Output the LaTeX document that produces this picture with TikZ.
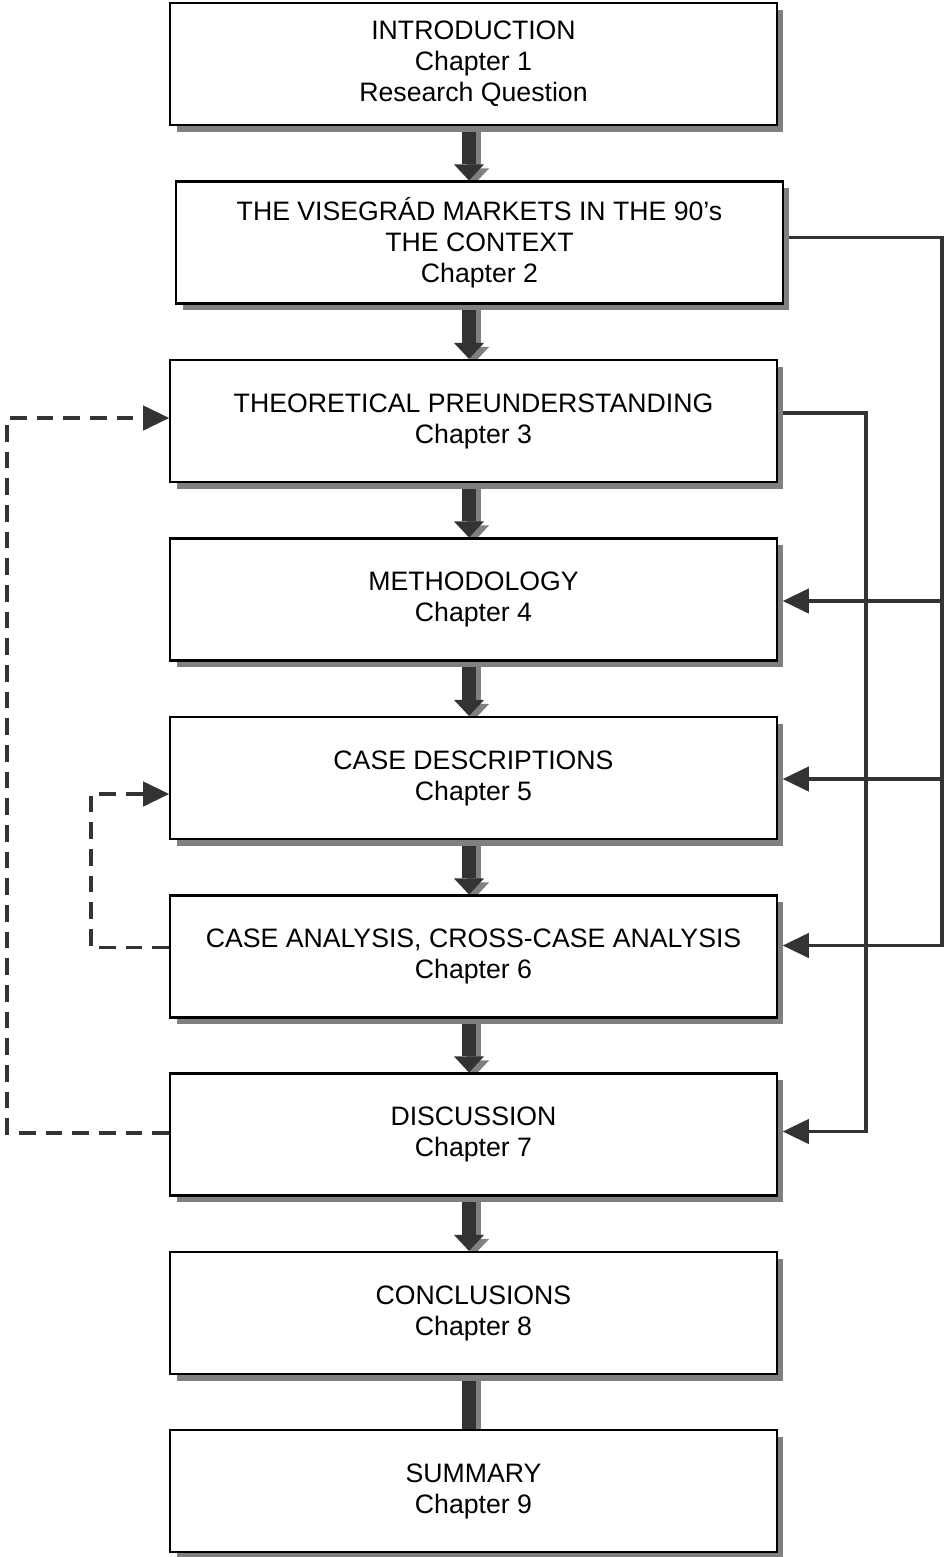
\documentclass[tikz,border=0pt]{standalone}
\usepackage{fontspec}
\setmainfont{Liberation Sans}
\usetikzlibrary{arrows.meta,shadows,calc}
\definecolor{ink}{HTML}{333333}
\definecolor{shade}{HTML}{808080}
\pgfdeclarelayer{bg}
\pgfsetlayers{bg,main}
\begin{document}
\begin{tikzpicture}[x=0.75pt,y=-0.75pt,
  chapter/.style={draw=black, line width=1.6pt, fill=white,
    minimum width=455pt, minimum height=91.5pt, inner sep=0pt,
    align=center, font=\fontsize{20}{23.25}\selectfont,
    drop shadow={shadow xshift=4.8pt, shadow yshift=-5pt, fill=shade, opacity=1}},
  flow/.style={draw=ink, line width=10.5pt,
    -{Triangle[width=22.5pt,length=12pt,line width=0pt]}},
  flowbar/.style={draw=ink, line width=10.5pt},
  flowshade/.style={draw=shade, transform canvas={shift={(3.8pt,-3pt)}}},
  link/.style={draw=ink, line width=2.4pt,
    -{Triangle[width=19pt,length=19.5pt,line width=0pt]}},
  feedback/.style={link, dash pattern=on 12.5pt off 7.5pt},
  plain/.style={draw=ink, line width=2.4pt}
]
\useasboundingbox (0,0) rectangle (944,1557);

% chapter boxes
\node[chapter] (b1) at (473.5,64)   {INTRODUCTION\\Chapter 1\\Research Question};
\node[chapter] (b2) at (479.5,242.5){THE VISEGRÁD MARKETS IN THE 90’s\\THE CONTEXT\\Chapter 2};
\node[chapter] (b3) at (473.5,421)  {THEORETICAL PREUNDERSTANDING\\Chapter 3};
\node[chapter] (b4) at (473.5,599.5){METHODOLOGY\\Chapter 4};
\node[chapter] (b5) at (473.5,778)  {CASE DESCRIPTIONS\\Chapter 5};
\node[chapter] (b6) at (473.5,956.5){CASE ANALYSIS, CROSS-CASE ANALYSIS\\Chapter 6};
\node[chapter] (b7) at (473.5,1134.5){DISCUSSION\\Chapter 7};
\node[chapter] (b8) at (473.5,1313) {CONCLUSIONS\\Chapter 8};
\node[chapter] (b9) at (473.5,1491) {SUMMARY\\Chapter 9};

% guide coordinates
\coordinate (ax) at (469,0);
\coordinate (bus1) at (942,0);
\coordinate (bus2) at (866,0);
\coordinate (bus3) at (7,0);
\coordinate (bus4) at (91,0);

\coordinate (s2) at ($(b2.east)+(0,-5)$);
\coordinate (s3) at ($(b3.east)+(0,-8)$);
\coordinate (t4) at ($(b4.east)+(5,1.5)$);
\coordinate (t5) at ($(b5.east)+(5,1)$);
\coordinate (t6) at ($(b6.east)+(5,-11)$);
\coordinate (t7) at ($(b7.east)+(5,-3)$);

\coordinate (f3) at ($(b3.west)+(0,-3)$);
\coordinate (f5) at ($(b5.west)+(0,16)$);
\coordinate (f6) at ($(b6.west)+(0,-9)$);
\coordinate (f7) at ($(b7.west)+(0,-1.5)$);

\begin{pgfonlayer}{bg}
  % main reading order
  \foreach \u/\v in {b1/b2,b2/b3,b3/b4,b4/b5,b5/b6,b6/b7,b7/b8}{
    \draw[flow,flowshade] (\u.south -| ax) -- (\v.north -| ax);
    \draw[flow] (\u.south -| ax) -- (\v.north -| ax);
  }
  \draw[flowbar,flowshade] (b8.south -| ax) -- (b9.north -| ax);
  \draw[flowbar] (b8.south -| ax) -- (b9.north -| ax);

  % context feeds methodology, cases and analysis
  \draw[link] (s2) -| (bus1 |- t6) -- (t6);
  \draw[link] (bus1 |- t4) -- (t4);
  \draw[link] (bus1 |- t5) -- (t5);
  % theory feeds discussion
  \draw[link] (s3) -| (bus2 |- t7) -- (t7);

  % feedback loops
  \draw[feedback] (f7) -| (bus3 |- f3) -- (f3);
  \draw[feedback] (f6) -| (bus4 |- f5) -- (f5);
\end{pgfonlayer}
\end{tikzpicture}
\end{document}
